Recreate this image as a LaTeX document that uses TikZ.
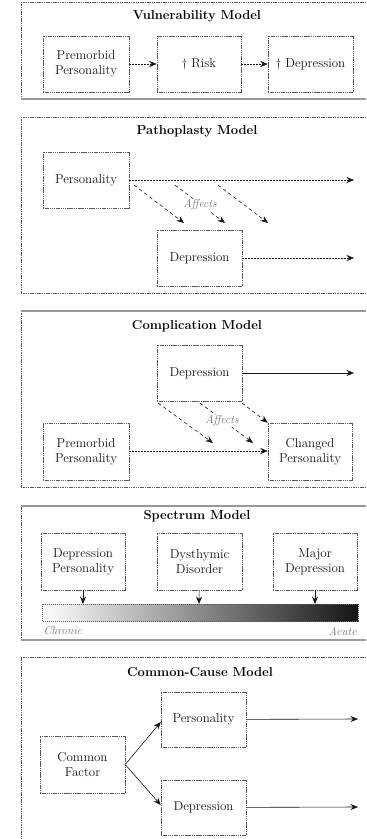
\documentclass[tikz,border=0pt]{standalone}
\usepackage{fontspec}
\usetikzlibrary{arrows.meta}
\definecolor{ink}{gray}{0.08}
\definecolor{frame}{gray}{0.35}
\definecolor{rule}{gray}{0.6}
\begin{document}
\begin{tikzpicture}[x=1bp,y=-1bp,
  txt/.style={font=\fontsize{13}{15}\selectfont\addfontfeatures{LetterSpace=6}, text=ink, align=center},
  box/.style={txt, draw=frame, line width=0.5pt, dash pattern=on 1.5pt off 0.7pt, inner sep=0pt, minimum width=85bp, minimum height=56bp},
  ttl/.style={font=\fontsize{13}{15}\selectfont\bfseries\addfontfeatures{LetterSpace=5}, text=black},
  lab/.style={font=\fontsize{11.5}{13}\selectfont\itshape\addfontfeatures{LetterSpace=6}, text=black!55},
  tip/.style={-{Stealth[length=7.5bp,width=6bp,inset=2.5bp]}},
  dline/.style={tip, draw=ink, line width=0.5pt, dash pattern=on 2pt off 1pt},
  sline/.style={tip, draw=ink, line width=0.6pt},
  diag/.style={tip, draw=ink, line width=0.6pt, dash pattern=on 3.5pt off 3pt},
  fdash/.style={draw=frame, line width=0.5pt, dash pattern=on 1.5pt off 0.8pt},
  fsolid/.style={draw=rule, line width=1.3pt}
]
\useasboundingbox (0,0) rectangle (366,839);

% ---------- frames ----------
\draw[fdash] (21,2) -- (21,99);
\draw[fdash] (21,2) -- (366,2);
\draw[fsolid] (21,99) -- (366,99);
\draw[fdash] (21,117) -- (21,293);
\draw[fdash] (21,117) -- (366,117);
\draw[fdash] (21,293) -- (366,293);
\draw[fdash] (21,311) -- (21,487);
\draw[fsolid] (21,311) -- (366,311);
\draw[fdash] (21,487) -- (366,487);
\draw[fdash] (21,506) -- (21,640);
\draw[fsolid] (21,506) -- (366,506);
\draw[fsolid] (21,640) -- (366,640);
\draw[fdash] (21,657) -- (21,839);
\draw[fdash] (21,657) -- (366,657);

% ---------- Vulnerability ----------
\node[ttl] (t1) at (197,16) {Vulnerability Model};
\node[box, minimum width=86bp] (pm1) at (86,64) {Premorbid\\Personality};
\node[box, minimum width=84bp] (risk1) at (199,64) {$\dagger$ Risk};
\node[box] (dep1) at (310.5,64) {$\dagger$ Depression};
\draw[dline] (pm1) -- (risk1);
\draw[dline] (risk1) -- (dep1);

% ---------- Pathoplasty ----------
\node[ttl] (t2) at (197,131) {Pathoplasty Model};
\node[box, minimum width=86bp] (pers2) at (86,180) {Personality};
\node[box] (dep2) at (199.5,258) {Depression};
\coordinate (p2e) at (354,180);
\coordinate (d2e) at (354,258);
\draw[dline] (pers2) -- (p2e);
\draw[dline] (dep2) -- (d2e);
\coordinate (a2s1) at (134,185); \coordinate (a2e1) at (184,223);
\coordinate (a2s2) at (175,185); \coordinate (a2e2) at (225,223);
\coordinate (a2s3) at (218,185); \coordinate (a2e3) at (268,223);
\draw[diag] (a2s1) -- (a2e1);
\draw[diag] (a2s2) -- (a2e2);
\draw[diag] (a2s3) -- (a2e3);
\node[lab, fill=white, inner sep=0.5pt] (aff2) at (200,205) {Affects};

% ---------- Complication ----------
\node[ttl] (t3) at (197,326) {Complication Model};
\node[box] (dep3) at (199.5,373) {Depression};
\node[box, minimum width=86bp, minimum height=57bp] (pm3) at (86,451.5) {Premorbid\\Personality};
\node[box, minimum width=84bp, minimum height=57bp] (chg3) at (310,451.5) {Changed\\Personality};
\coordinate (d3e) at (354,373);
\draw[sline] (dep3) -- (d3e);
\draw[dline] (pm3.east |- 0,451) -- (chg3.west |- 0,451);
\coordinate (a3s1) at (158,403); \coordinate (a3e1) at (213,443);
\coordinate (a3s2) at (200,403); \coordinate (a3e2) at (253,443);
\coordinate (a3s3) at (242,403);
\draw[diag] (a3s1) -- (a3e1);
\draw[diag] (a3s2) -- (a3e2);
\draw[diag] (a3s3) -- (chg3.north west);
\node[lab, fill=white, inner sep=0.5pt] (aff3) at (222,421) {Affects};

% ---------- Spectrum ----------
\node[ttl] (t4) at (197,516) {Spectrum Model};
\node[box, minimum width=84bp, minimum height=57bp] (dp4) at (83,561.5) {Depression\\Personality};
\node[box, minimum height=57bp] (dys4) at (199.5,561.5) {Dysthymic\\Disorder};
\node[box, minimum width=84bp, minimum height=57bp] (maj4) at (315,561.5) {Major\\Depression};
\shade[left color=white, right color=black!92] (42,604) rectangle (358,621);
\draw[draw=frame, line width=0.4pt, dash pattern=on 1pt off 1pt] (42,604) rectangle (358,621);
\coordinate (b1) at (83,604);
\coordinate (b2) at (199,604);
\coordinate (b3) at (315,604);
\draw[sline] (dp4) -- (b1);
\draw[sline] (dys4) -- (b2);
\draw[sline] (maj4) -- (b3);
\node[lab, anchor=west] (chr) at (40,631) {Chronic};
\node[lab, anchor=east] (acu) at (360,631) {Acute};

% ---------- Common-Cause ----------
\node[ttl] (t5) at (200,672) {Common-Cause Model};
\node[box, minimum height=55bp] (pers5) at (203.5,719.5) {Personality};
\node[box, minimum height=55bp] (dep5) at (203.5,807.5) {Depression};
\node[box, minimum height=57bp] (cf5) at (82.5,764.5) {Common\\Factor};
\coordinate (p5e) at (358,719);
\coordinate (d5e) at (358,807);
\draw[sline] (cf5.east) -- (pers5.west |- 0,722);
\draw[sline] (cf5.east) -- (dep5.west |- 0,805);
\draw[sline] (pers5) -- (p5e);
\draw[sline] (dep5) -- (d5e);
\end{tikzpicture}
\end{document}
